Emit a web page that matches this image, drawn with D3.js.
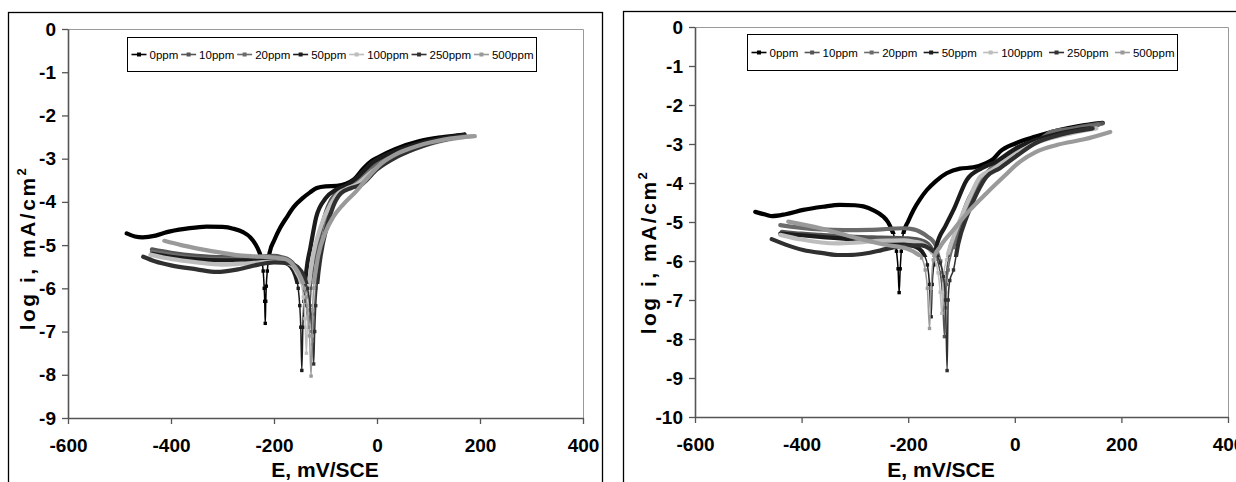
<!DOCTYPE html>
<html><head><meta charset="utf-8">
<script src="https://cdn.jsdelivr.net/npm/d3@7"></script>
<style>
html,body{margin:0;padding:0;background:#fff;}
svg{display:block;font-family:"Liberation Sans",Arial,sans-serif;}
</style></head>
<body>
<svg id="c" width="1236" height="482"></svg>
<script>
// ---------- DATA ----------
const seriesNames = ["0ppm","10ppm","20ppm","50ppm","100ppm","250ppm","500ppm"];
const xTicks = [-600,-400,-200,0,200,400];
const yTicksLeft = [0,-1,-2,-3,-4,-5,-6,-7,-8,-9];
const yTicksRight = [0,-1,-2,-3,-4,-5,-6,-7,-8,-9,-10];
const xTitle = "E, mV/SCE";
const yTitle = "log i, mA/cm";

// Left chart: [E (mV/SCE), log i]
const left0ppm = [[-486,-4.73],[-470,-4.8],[-455,-4.82],[-430,-4.78],[-408,-4.7],[-370,-4.62],[-331,-4.57],[-300,-4.58],[-279,-4.62],[-260,-4.7],[-246,-4.82],[-236,-4.98],[-230,-5.12],[-224,-5.35],[-221,-5.6],[-219,-6.0],[-218,-6.3],[-217,-6.81],[-216,-6.3],[-215,-5.95],[-213,-5.6],[-211,-5.35],[-208,-5.15],[-200,-4.9],[-188,-4.6],[-175,-4.35],[-162,-4.12],[-145,-3.92],[-130,-3.78],[-117,-3.68],[-100,-3.64],[-78,-3.63],[-60,-3.58],[-45,-3.48],[-26,-3.22],[-10,-3.05],[5,-2.95],[35,-2.78],[81,-2.6],[128,-2.5],[170,-2.44]];
const left10ppm = [[-437,-5.1],[-400,-5.18],[-350,-5.25],[-300,-5.28],[-250,-5.28],[-200,-5.25],[-185,-5.28],[-170,-5.35],[-158,-5.5],[-148,-5.75],[-141,-6.05],[-137,-6.4],[-133,-6.9],[-130,-6.4],[-128,-6.0],[-124,-5.6],[-120,-5.3],[-110,-4.7],[-95,-4.1],[-80,-3.8],[-60,-3.65],[-45,-3.55],[-20,-3.3],[10,-3.0],[50,-2.8],[100,-2.62],[165,-2.47]];
const left20ppm = [[-437,-5.15],[-400,-5.22],[-350,-5.3],[-300,-5.32],[-250,-5.3],[-200,-5.28],[-180,-5.32],[-165,-5.42],[-152,-5.6],[-142,-5.85],[-134,-6.2],[-129,-6.6],[-125,-7.3],[-122,-6.6],[-119,-6.0],[-116,-5.6],[-112,-5.3],[-100,-4.6],[-85,-4.0],[-70,-3.72],[-50,-3.6],[-30,-3.45],[0,-3.15],[40,-2.9],[100,-2.65],[170,-2.48]];
const left50ppm = [[-437,-5.2],[-400,-5.27],[-350,-5.33],[-300,-5.35],[-250,-5.35],[-200,-5.35],[-180,-5.4],[-167,-5.5],[-158,-5.72],[-153,-6.0],[-150,-6.4],[-148,-6.9],[-146,-7.9],[-144,-6.9],[-142,-6.3],[-139,-5.8],[-135,-5.4],[-130,-5.1],[-118,-4.35],[-100,-3.92],[-80,-3.72],[-60,-3.62],[-40,-3.45],[-10,-3.1],[30,-2.85],[80,-2.65],[130,-2.52],[170,-2.45]];
const left100ppm = [[-440,-5.22],[-400,-5.32],[-350,-5.4],[-300,-5.45],[-250,-5.42],[-200,-5.38],[-180,-5.4],[-165,-5.47],[-155,-5.65],[-148,-5.85],[-143,-6.2],[-140,-6.7],[-137,-7.5],[-135,-6.7],[-133,-6.1],[-130,-5.7],[-125,-5.3],[-110,-4.6],[-90,-4.05],[-75,-3.8],[-60,-3.7],[-40,-3.6],[-10,-3.3],[30,-3.0],[80,-2.75],[130,-2.58],[185,-2.48]];
const left250ppm = [[-454,-5.27],[-430,-5.38],[-400,-5.47],[-350,-5.56],[-311,-5.62],[-270,-5.56],[-230,-5.45],[-200,-5.4],[-170,-5.42],[-155,-5.5],[-143,-5.7],[-135,-6.0],[-129,-6.5],[-126,-7.0],[-123,-7.75],[-121,-7.0],[-119,-6.4],[-116,-5.9],[-110,-5.3],[-98,-4.6],[-85,-4.1],[-70,-3.8],[-50,-3.68],[-30,-3.6],[0,-3.25],[40,-2.95],[90,-2.7],[170,-2.47]];
const left500ppm = [[-413,-4.9],[-380,-5.0],[-348,-5.08],[-300,-5.18],[-272,-5.23],[-240,-5.26],[-210,-5.28],[-179,-5.32],[-160,-5.5],[-148,-5.75],[-141,-6.0],[-135,-6.5],[-131,-7.1],[-128,-8.03],[-126,-7.1],[-125,-6.5],[-123,-6.0],[-119,-5.6],[-115,-5.3],[-100,-4.7],[-85,-4.35],[-65,-4.05],[-40,-3.75],[-15,-3.4],[10,-3.1],[40,-2.88],[80,-2.7],[130,-2.56],[190,-2.48]];

// Right chart
const right0ppm = [[-487,-4.74],[-465,-4.82],[-456,-4.85],[-430,-4.8],[-397,-4.69],[-360,-4.61],[-328,-4.56],[-300,-4.57],[-284,-4.6],[-265,-4.7],[-247,-4.86],[-238,-5.0],[-231,-5.2],[-225,-5.45],[-222,-5.75],[-219,-6.2],[-217,-6.81],[-215,-6.2],[-213,-5.75],[-211,-5.45],[-209,-5.29],[-200,-4.98],[-190,-4.69],[-178,-4.42],[-165,-4.18],[-148,-3.95],[-128,-3.75],[-103,-3.63],[-78,-3.6],[-55,-3.5],[-40,-3.38],[-28,-3.2],[2,-2.98],[39,-2.81],[83,-2.64],[120,-2.54],[165,-2.46]];
const right10ppm = [[-437,-5.25],[-400,-5.3],[-365,-5.33],[-300,-5.38],[-250,-5.4],[-200,-5.42],[-170,-5.5],[-155,-5.7],[-146,-5.95],[-140,-6.3],[-136,-6.8],[-132,-7.94],[-130,-6.8],[-128,-6.3],[-125,-5.97],[-120,-5.6],[-109,-5.3],[-100,-4.9],[-90,-4.52],[-65,-3.93],[-40,-3.58],[-6,-3.24],[39,-2.94],[83,-2.69],[165,-2.47]];
const right20ppm = [[-440,-5.08],[-400,-5.15],[-365,-5.19],[-320,-5.21],[-272,-5.2],[-240,-5.18],[-209,-5.16],[-190,-5.19],[-178,-5.25],[-163,-5.38],[-153,-5.5],[-145,-5.7],[-139,-6.0],[-134,-6.5],[-130,-7.2],[-128,-6.6],[-125,-6.23],[-115,-5.63],[-100,-4.95],[-78,-4.27],[-53,-3.75],[-22,-3.45],[2,-3.25],[46,-2.9],[70,-2.68],[113,-2.6],[157,-2.51]];
const right50ppm = [[-440,-5.3],[-400,-5.34],[-365,-5.38],[-300,-5.45],[-250,-5.52],[-200,-5.58],[-180,-5.68],[-170,-5.85],[-164,-6.1],[-160,-6.6],[-157,-7.43],[-155,-6.6],[-152,-6.1],[-147,-5.63],[-130,-5.1],[-115,-4.69],[-90,-3.92],[-62,-3.62],[-35,-3.45],[2,-3.11],[39,-2.9],[83,-2.73],[140,-2.6]];
const right100ppm = [[-440,-5.33],[-400,-5.45],[-334,-5.55],[-300,-5.53],[-272,-5.5],[-240,-5.48],[-209,-5.47],[-190,-5.5],[-174,-5.55],[-160,-5.7],[-150,-5.95],[-144,-6.3],[-140,-6.8],[-137,-7.34],[-135,-6.8],[-133,-6.3],[-128,-5.97],[-115,-5.38],[-103,-4.95],[-84,-4.35],[-65,-3.84],[-43,-3.67],[-6,-3.32],[39,-2.98],[91,-2.77],[153,-2.6]];
const right250ppm = [[-456,-5.44],[-430,-5.58],[-397,-5.72],[-360,-5.8],[-328,-5.85],[-300,-5.84],[-272,-5.79],[-250,-5.72],[-228,-5.65],[-200,-5.6],[-175,-5.6],[-160,-5.68],[-148,-5.82],[-140,-6.05],[-134,-6.4],[-130,-7.0],[-127,-8.81],[-125,-7.0],[-122,-6.5],[-115,-6.23],[-106,-5.55],[-90,-4.86],[-71,-4.26],[-53,-3.84],[-28,-3.62],[2,-3.32],[39,-2.98],[83,-2.77],[146,-2.6]];
const right500ppm = [[-425,-4.99],[-365,-5.16],[-303,-5.39],[-240,-5.59],[-203,-5.68],[-185,-5.8],[-175,-5.92],[-168,-6.23],[-164,-6.7],[-160,-7.73],[-157,-6.7],[-153,-5.97],[-140,-5.63],[-115,-5.2],[-84,-4.69],[-53,-4.26],[-21,-3.84],[10,-3.45],[40,-3.2],[80,-3.02],[130,-2.88],[179,-2.69]];

const seriesColors = ["#000000","#555555","#6b6b6b","#1c1c1c","#bdbdbd","#303030","#9a9a9a"];

// ---------- LAYOUT ----------
const panels = [
  {frame:{x:8.5,y:12.5,w:594,h:480}, x0:68, x1:583, yTop:29, yBot:418, yMin:-9, yTicks:yTicksLeft,
   legend:{x:127.5,y:37.5,w:409,h:34}, xTitleX:325, yTitleX:35, yTitleY:248, clipId:"L",
   data:[left0ppm,left10ppm,left20ppm,left50ppm,left100ppm,left250ppm,left500ppm]},
  {frame:{x:623.5,y:11.5,w:620,h:480}, x0:695, x1:1228, yTop:27, yBot:417, yMin:-10, yTicks:yTicksRight,
   legend:{x:747.5,y:34.5,w:430,h:36}, xTitleX:941, yTitleX:656, yTitleY:252, clipId:"R",
   data:[right0ppm,right10ppm,right20ppm,right50ppm,right100ppm,right250ppm,right500ppm]}
];

const svg = d3.select("#c");
const defs = svg.append("defs");

panels.forEach(p => {
  const g = svg.append("g");
  g.append("rect").attr("x",p.frame.x).attr("y",p.frame.y).attr("width",p.frame.w).attr("height",p.frame.h)
    .attr("fill","#fff").attr("stroke","#000").attr("stroke-width",1.3);

  const x = d3.scaleLinear().domain([-600,400]).range([p.x0,p.x1]);
  const y = d3.scaleLinear().domain([p.yMin,0]).range([p.yBot,p.yTop]);

  g.append("path").attr("d",`M${p.x0},${p.yTop+0.5}H${p.x1+0.5}V${p.yBot}`)
    .attr("fill","none").attr("stroke","#9a9a9a").attr("stroke-width",1);

  const xa = g.append("g").attr("transform",`translate(0,${p.yBot})`)
    .call(d3.axisBottom(x).tickValues(xTicks).tickSize(6).tickSizeOuter(0).tickPadding(15).tickFormat(d=>String(d)));
  const ya = g.append("g").attr("transform",`translate(${p.x0},0)`)
    .call(d3.axisLeft(y).tickValues(p.yTicks).tickSize(6).tickSizeOuter(0).tickPadding(6).tickFormat(d=>String(d)));
  [xa,ya].forEach(a=>{
    a.select(".domain").attr("stroke","#555").attr("stroke-width",1.6);
    a.selectAll(".tick line").attr("stroke","#555").attr("stroke-width",1.3);
    a.selectAll(".tick text").attr("fill","#000").style("font-size","19px").style("font-weight","bold")
      .style("font-family",'"Liberation Sans",Arial,sans-serif');
  });

  g.append("text").attr("x",p.xTitleX).attr("y",477).attr("text-anchor","middle")
    .style("font-size","21px").style("font-weight","bold").text(xTitle);
  const yt = g.append("text").attr("transform",`translate(${p.yTitleX},${p.yTitleY}) rotate(-90)`)
    .attr("text-anchor","middle").style("font-size","21px").style("font-weight","bold").style("letter-spacing","2.5px");
  yt.append("tspan").text(yTitle);
  yt.append("tspan").attr("dy",-9).style("font-size","13px").text("2");

  const line = d3.line().x(d=>x(d[0])).y(d=>y(d[1])).curve(d3.curveMonotoneX);
  p.data.forEach((pts,i) => {
    const col = seriesColors[i];
    const minV = d3.min(pts,d=>d[1]);
    const thr = Math.max(minV + 1.5, -5.9);
    const cid = `clip${p.clipId}${i}`;
    defs.append("clipPath").attr("id",cid).append("rect")
      .attr("x",p.x0).attr("y",p.yTop-10).attr("width",p.x1-p.x0+20).attr("height",y(thr)-(p.yTop-10));
    g.append("path").attr("d",line(pts)).attr("fill","none").attr("stroke",col).attr("stroke-width",1.5);
    g.append("path").attr("d",line(pts)).attr("fill","none").attr("stroke",col).attr("stroke-width",4.2)
      .attr("clip-path",`url(#${cid})`).attr("stroke-linecap","round");
    g.selectAll(null).data(pts.filter(d=>d[1]<thr)).enter().append("rect")
      .attr("x",d=>x(d[0])-1.7).attr("y",d=>y(d[1])-1.7).attr("width",3.4).attr("height",3.4).attr("fill",col);
  });

  const L = p.legend;
  const lg = g.append("g");
  lg.append("rect").attr("x",L.x).attr("y",L.y).attr("width",L.w).attr("height",L.h)
    .attr("fill","#fff").attr("stroke","#000").attr("stroke-width",1);
  const texts = seriesNames.map(n => lg.append("text").style("font-size","11.5px").attr("fill","#000").text(n));
  const widths = texts.map(t => t.node().getComputedTextLength());
  const sw = 15, sg = 3, padL = 4, padR = 3;
  const gap = (L.w - padL - padR - d3.sum(widths) - seriesNames.length*(sw+sg)) / (seriesNames.length-1);
  let cx = L.x + padL;
  const cy = L.y + L.h/2;
  seriesNames.forEach((n,i)=>{
    lg.append("line").attr("x1",cx).attr("x2",cx+sw).attr("y1",cy).attr("y2",cy)
      .attr("stroke",seriesColors[i]).attr("stroke-width",1.6);
    lg.append("rect").attr("x",cx+sw/2-2).attr("y",cy-2).attr("width",4).attr("height",4).attr("fill",seriesColors[i]);
    texts[i].attr("x",cx+sw+sg).attr("y",cy+4.2);
    cx += sw + sg + widths[i] + gap;
  });
});
</script>
</body></html>
